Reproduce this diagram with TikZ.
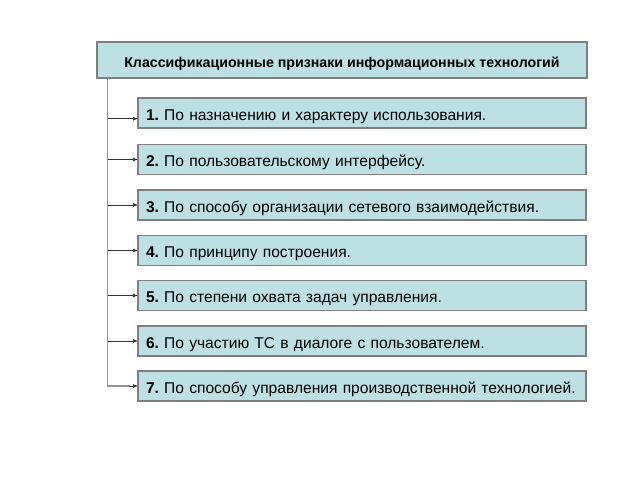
\documentclass[tikz,border=0pt]{standalone}
\usepackage{fontspec}
\setmainfont{Liberation Sans}
\usetikzlibrary{arrows.meta}
\definecolor{boxfill}{HTML}{BCE0E3}
\definecolor{boxline}{HTML}{7F7F7F}
\begin{document}
\frenchspacing
\begin{tikzpicture}[x=1pt,y=-1pt,
  titlebox/.style={draw=boxline,fill=boxfill,line width=1.3pt,minimum width=490pt,minimum height=36pt,inner sep=0pt,outer sep=0pt,text height=15.2pt,text depth=0pt,anchor=north west,font=\fontsize{14.2}{16}\selectfont\bfseries\frenchspacing},
  itembox/.style={draw=boxline,fill=boxfill,line width=1.3pt,minimum width=448pt,minimum height=30pt,inner xsep=8pt,inner ysep=0pt,outer sep=0pt,text width=432pt,text height=14.4pt,text depth=0pt,align=left,anchor=north west,font=\fontsize{15.6}{17}\selectfont\frenchspacing},
  vline/.style={draw=gray!85,line width=1.8pt},
  branch/.style={draw=black!80,line width=0.7pt,-{Latex[length=5pt,width=4pt]}}]
\useasboundingbox (0,0) rectangle (640,480);
\node[titlebox] (t) at (97,42) {Классификационные признаки информационных технологий};
\node[itembox] (b1) at (138,98) {\textbf{1.} По назначению и характеру использования.};
\node[itembox] (b2) at (138,144.5) {\textbf{2.} По пользовательскому интерфейсу.};
\node[itembox] (b3) at (138,190) {\textbf{3.} По способу организации сетевого взаимодействия.};
\node[itembox] (b4) at (138,235.5) {\textbf{4.} По принципу построения.};
\node[itembox] (b5) at (138,280.5) {\textbf{5.} По степени охвата задач управления.};
\node[itembox] (b6) at (138,326) {\textbf{6.} По участию ТС в диалоге с пользователем.};
\node[itembox] (b7) at (138,371) {\textbf{7.} По способу управления производственной технологией.};
\coordinate (top) at (107.5,78);
\coordinate (a1) at (107.5,118.7);
\coordinate (e1) at (138,118.7);
\foreach \i in {2,...,7}{\coordinate (a\i) at (top |- b\i.west);}
\draw[vline] (top) -- (a7) -- ([xshift=-8pt]b7.west);
\draw[branch] (a1) -- (e1);
\foreach \i in {2,...,6}{\draw[branch] (a\i) -- (b\i.west);}
\draw[branch] ([xshift=-9pt]b7.west) -- (b7.west);
\end{tikzpicture}
\end{document}
